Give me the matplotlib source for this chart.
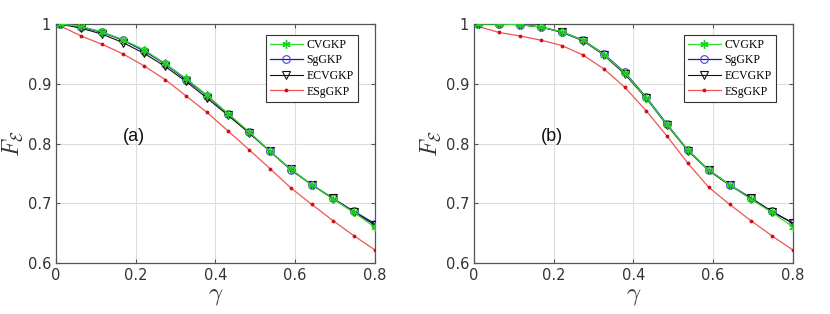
import matplotlib.pyplot as plt

plt.rcParams["mathtext.fontset"] = "cm"

gamma = [0.01, 0.063, 0.116, 0.168, 0.221, 0.274, 0.326, 0.379,
         0.432, 0.484, 0.537, 0.589, 0.642, 0.695, 0.747, 0.8]

# panel (a)
cv_a = [1.0, 0.996, 0.987, 0.974, 0.957, 0.934, 0.909, 0.881,
        0.850, 0.820, 0.787, 0.757, 0.731, 0.707, 0.685, 0.660]
sg_a = [1.0, 0.995, 0.986, 0.973, 0.955, 0.933, 0.907, 0.880,
        0.849, 0.819, 0.787, 0.756, 0.731, 0.708, 0.687, 0.666]
ecv_a = [1.0, 0.993, 0.983, 0.969, 0.951, 0.929, 0.904, 0.876,
         0.847, 0.818, 0.787, 0.757, 0.731, 0.708, 0.685, 0.664]
esg_a = [0.997, 0.980, 0.966, 0.950, 0.930, 0.907, 0.880, 0.852,
         0.821, 0.790, 0.758, 0.726, 0.698, 0.671, 0.646, 0.622]

# panel (b)
cv_b = [1.0, 1.0, 0.999, 0.995, 0.987, 0.973, 0.949, 0.918,
        0.877, 0.832, 0.789, 0.756, 0.731, 0.707, 0.685, 0.661]
sg_b = [1.0, 1.0, 0.999, 0.995, 0.987, 0.973, 0.950, 0.919,
        0.878, 0.833, 0.789, 0.756, 0.731, 0.709, 0.687, 0.667]
ecv_b = [1.0, 1.0, 0.999, 0.995, 0.986, 0.972, 0.948, 0.916,
         0.876, 0.831, 0.788, 0.755, 0.730, 0.708, 0.686, 0.667]
esg_b = [0.996, 0.986, 0.980, 0.973, 0.964, 0.948, 0.925, 0.894,
         0.855, 0.813, 0.767, 0.727, 0.698, 0.671, 0.646, 0.622]

labels = ["CVGKP", "SgGKP", "ECVGKP", "ESgGKP"]
panels = [("(a)", [cv_a, sg_a, ecv_a, esg_a]), ("(b)", [cv_b, sg_b, ecv_b, esg_b])]

styles = [
    dict(color="#33dd33", marker=(6, 2, 0), markersize=6, mec="#22cc22", mew=1.0, lw=0.9, zorder=5),
    dict(color="#1a1a99", marker="o", markersize=5.5, mfc="none", mec="#4444cc", mew=0.8, lw=0.9, zorder=4),
    dict(color="#111111", marker="v", markersize=5.5, mfc="none", mec="#111111", mew=0.8, lw=0.8, zorder=4),
    dict(color="#ee5555", marker=".", markersize=3.5, mfc="#cc1111", mec="#cc1111", lw=0.9, zorder=3),
]

fig = plt.figure(figsize=(8.3, 3.14), dpi=100)
lefts = [0.0675, 0.571]
spine_c = "#555555"

for left, (tag, series) in zip(lefts, panels):
    ax = fig.add_axes([left, 0.1624, 0.384, 0.761])
    for ys, lab, st in zip(series, labels, styles):
        ax.plot(gamma, ys, label=lab, **st)

    ax.set_xlim(0, 0.8)
    ax.set_ylim(0.6, 1.0)
    ax.set_xticks([0, 0.2, 0.4, 0.6, 0.8])
    ax.set_xticklabels(["0", "0.2", "0.4", "0.6", "0.8"])
    ax.set_yticks([0.6, 0.7, 0.8, 0.9, 1.0])
    ax.set_yticklabels(["0.6", "0.7", "0.8", "0.9", "1"])
    ax.grid(True, color="#dddddd", lw=0.8)
    ax.tick_params(direction="in", top=True, right=True, length=3,
                   labelsize=10.5, colors=spine_c, labelcolor="#333333")
    for s in ax.spines.values():
        s.set_color(spine_c)
        s.set_linewidth(0.9)

    ax.set_xlabel(r"$\gamma$", fontsize=18, color="#333333", labelpad=0)
    ax.set_ylabel(r"$F_{\mathcal{E}}$", fontsize=17, color="#333333", labelpad=2)

    ax.text(0.168, 0.811, tag, fontsize=13, va="center", ha="left",
            family="Liberation Sans", color="#111111")

    leg = ax.legend(loc="upper right", bbox_to_anchor=(0.947, 0.955),
                    prop={"family": "Liberation Serif", "size": 8.5},
                    fancybox=False, framealpha=1, edgecolor="#333333",
                    handlelength=2.8, handletextpad=0.3, borderpad=0.35,
                    labelspacing=0.3, borderaxespad=0)
    leg.get_frame().set_linewidth(0.8)

fig.savefig("out.png", dpi=100)
